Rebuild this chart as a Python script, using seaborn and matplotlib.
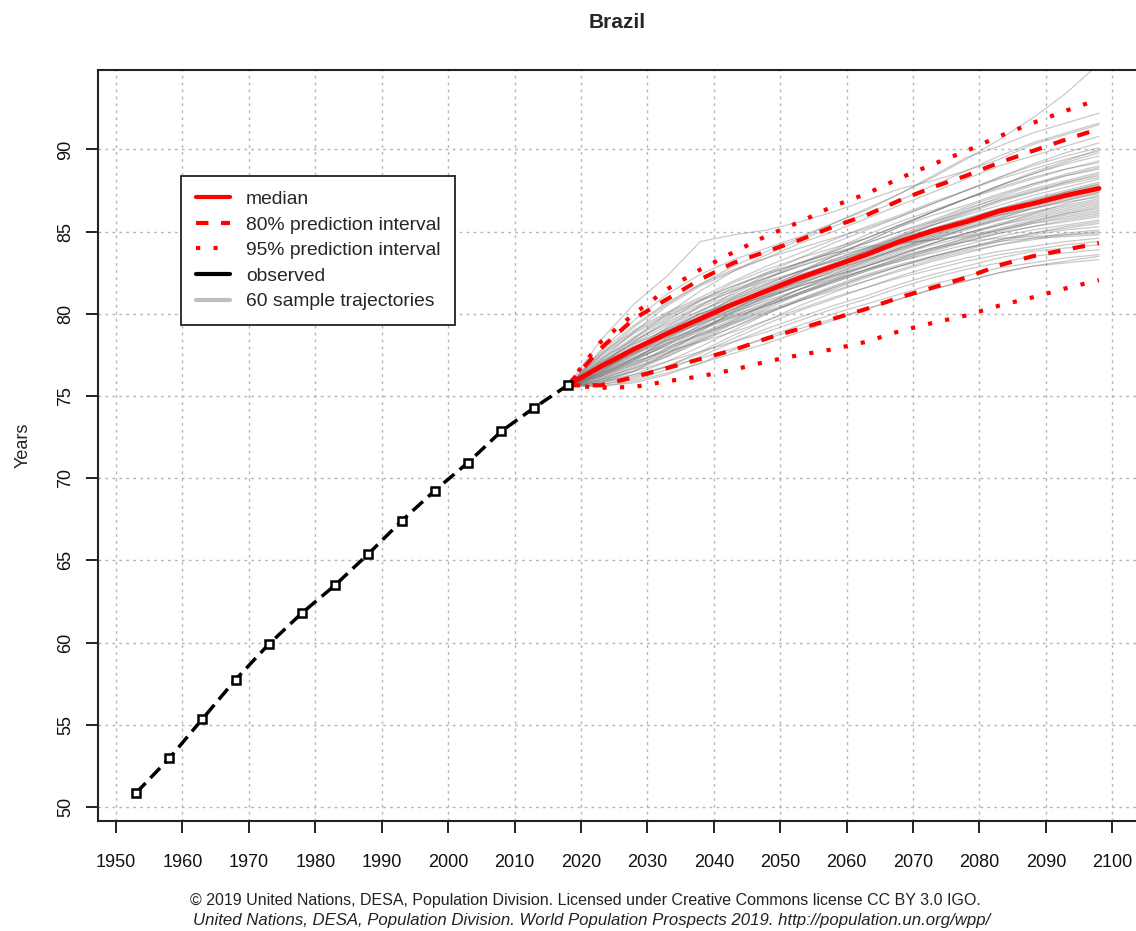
import pandas as pd
import matplotlib.pyplot as plt
import matplotlib.lines as mlines
import seaborn as sns

sns.set_style("white")
plt.rcParams['font.family'] = ['Liberation Sans', 'DejaVu Sans']

# observed life expectancy (5-year period midpoints)
obs_years = [1953, 1958, 1963, 1968, 1973, 1978, 1983, 1988, 1993, 1998, 2003, 2008, 2013, 2018]
obs_values = [50.85, 52.95, 55.35, 57.75, 59.9, 61.8, 63.5, 65.4, 67.4, 69.25, 70.95, 72.85, 74.3, 75.65]

# projections
proj_years = [2018, 2023, 2028, 2033, 2038, 2043, 2048, 2053, 2058,
              2063, 2068, 2073, 2078, 2083, 2088, 2093, 2098]
median = [75.65, 76.8, 77.85, 78.8, 79.7, 80.6, 81.4, 82.2, 82.9, 83.6, 84.4, 85.05, 85.6, 86.25, 86.7, 87.2, 87.63]
pi80_upper = [75.65, 77.9, 79.7, 80.9, 82.1, 83.1, 83.8, 84.5, 85.3, 86.0, 86.9, 87.7, 88.4, 89.2, 89.9, 90.6, 91.25]
pi80_lower = [75.65, 75.65, 76.15, 76.7, 77.25, 77.8, 78.5, 79.1, 79.7, 80.3, 81.0, 81.6, 82.2, 82.95, 83.5, 83.9, 84.3]
pi95_upper = [75.65, 78.3, 80.0, 81.5, 82.7, 83.75, 84.75, 85.6, 86.55, 87.3, 88.25, 89.1, 89.9, 90.8, 91.6, 92.35, 93.05]
pi95_lower = [75.65, 75.5, 75.55, 75.9, 76.2, 76.6, 77.1, 77.5, 77.85, 78.3, 78.95, 79.45, 79.9, 80.5, 81.0, 81.55, 82.05]

# 60 sample trajectories
trajectories = [
    [75.6, 77.5, 79.2, 80.6, 81.8, 82.9, 83.8, 84.6, 85.5, 86.4, 87.3, 88.3, 89.4, 90.6, 91.9, 93.4, 95.2],
    [75.6, 78.4, 80.6, 82.3, 84.4, 84.8, 85.1, 85.6, 86.2, 86.9, 87.6, 88.1, 88.7, 89.4, 90.3, 90.9, 91.5],
    [75.6, 77.8, 79.6, 81.2, 82.4, 83.3, 84.0, 84.7, 85.5, 86.3, 87.3, 88.4, 89.5, 90.2, 91.0, 91.6, 92.2],
    [75.6, 77.2, 78.9, 80.5, 81.7, 82.6, 83.4, 84.3, 85.0, 85.8, 86.6, 87.4, 88.2, 89.0, 89.6, 90.2, 90.8],
    [75.6, 77.6, 79.0, 80.1, 81.0, 82.0, 82.9, 83.7, 84.5, 85.3, 86.0, 86.8, 87.5, 88.2, 88.8, 89.4, 89.9],
    [75.6, 76.9, 78.3, 79.6, 80.8, 81.9, 82.7, 83.4, 84.0, 84.6, 85.4, 86.2, 87.0, 87.8, 88.5, 89.1, 89.6],
    [75.6, 77.3, 78.4, 79.4, 80.4, 81.2, 82.2, 83.1, 83.9, 84.8, 85.6, 86.3, 87.0, 87.6, 88.2, 88.8, 89.3],
    [75.6, 76.6, 77.6, 78.9, 80.1, 81.3, 82.4, 83.1, 83.7, 84.3, 85.0, 85.7, 86.5, 87.2, 87.9, 88.5, 89.0],
    [75.6, 77.0, 78.2, 79.3, 80.2, 81.0, 81.8, 82.6, 83.5, 84.4, 85.3, 86.0, 86.6, 87.3, 87.9, 88.4, 88.8],
    [75.6, 76.4, 77.5, 78.7, 79.9, 80.9, 81.8, 82.6, 83.3, 84.0, 84.8, 85.6, 86.4, 87.0, 87.6, 88.1, 88.6],
    [75.6, 77.4, 78.8, 79.9, 80.8, 81.5, 82.2, 82.9, 83.6, 84.3, 85.0, 85.6, 86.2, 86.9, 87.5, 88.0, 88.4],
    [75.6, 76.8, 77.9, 78.8, 79.6, 80.6, 81.6, 82.5, 83.3, 84.0, 84.7, 85.4, 86.0, 86.6, 87.2, 87.7, 88.2],
    [75.6, 76.2, 77.1, 78.2, 79.3, 80.3, 81.2, 82.1, 83.0, 83.8, 84.5, 85.2, 85.8, 86.4, 87.0, 87.5, 88.0],
    [75.6, 77.1, 78.5, 79.7, 80.6, 81.4, 82.0, 82.6, 83.2, 83.9, 84.6, 85.2, 85.8, 86.4, 86.9, 87.4, 87.9],
    [75.6, 76.7, 77.6, 78.5, 79.5, 80.5, 81.3, 82.0, 82.8, 83.6, 84.3, 84.9, 85.6, 86.3, 86.9, 87.4, 87.8],
    [75.6, 76.3, 77.3, 78.4, 79.5, 80.4, 81.1, 81.9, 82.7, 83.4, 84.1, 84.8, 85.5, 86.1, 86.7, 87.2, 87.7],
    [75.6, 77.0, 78.0, 78.9, 79.8, 80.8, 81.7, 82.4, 83.0, 83.6, 84.2, 84.8, 85.4, 86.0, 86.6, 87.1, 87.6],
    [75.6, 76.5, 77.8, 79.0, 80.0, 80.7, 81.4, 82.1, 82.8, 83.5, 84.2, 84.9, 85.5, 86.0, 86.6, 87.1, 87.5],
    [75.6, 76.9, 77.7, 78.6, 79.4, 80.3, 81.2, 82.0, 82.7, 83.3, 84.0, 84.7, 85.3, 85.9, 86.5, 87.0, 87.4],
    [75.6, 76.1, 76.9, 77.9, 79.0, 80.1, 81.0, 81.8, 82.6, 83.3, 84.0, 84.6, 85.2, 85.8, 86.4, 86.9, 87.3],
    [75.6, 77.2, 78.6, 79.8, 80.8, 81.7, 82.5, 83.1, 83.7, 84.1, 84.3, 84.5, 84.8, 85.4, 86.1, 86.7, 87.2],
    [75.6, 76.6, 77.4, 78.2, 79.1, 80.0, 80.9, 81.8, 82.6, 83.3, 83.9, 84.5, 85.1, 85.7, 86.2, 86.6, 87.0],
    [75.6, 76.8, 78.1, 79.1, 80.0, 80.7, 81.3, 81.9, 82.5, 83.2, 83.9, 84.6, 85.2, 85.7, 86.1, 86.5, 86.9],
    [75.6, 76.0, 76.8, 77.8, 78.8, 79.7, 80.6, 81.5, 82.3, 83.0, 83.7, 84.3, 84.9, 85.4, 85.9, 86.3, 86.7],
    [75.6, 76.4, 77.3, 78.3, 79.3, 80.2, 81.0, 81.7, 82.3, 82.9, 83.6, 84.3, 84.9, 85.4, 85.8, 86.2, 86.6],
    [75.6, 77.1, 78.2, 79.0, 79.8, 80.5, 81.1, 81.7, 82.3, 82.9, 83.6, 84.2, 84.7, 85.2, 85.7, 86.1, 86.4],
    [75.6, 75.9, 76.5, 77.4, 78.4, 79.4, 80.3, 81.2, 82.0, 82.7, 83.4, 84.0, 84.6, 85.1, 85.6, 86.0, 86.3],
    [75.6, 76.6, 77.5, 78.4, 79.2, 79.9, 80.6, 81.3, 82.0, 82.7, 83.4, 84.0, 84.6, 85.1, 85.5, 85.8, 86.1],
    [75.6, 76.3, 77.0, 77.8, 78.7, 79.6, 80.5, 81.3, 82.0, 82.7, 83.3, 83.9, 84.4, 84.9, 85.3, 85.6, 85.9],
    [75.6, 76.9, 77.9, 78.7, 79.4, 80.1, 80.8, 81.5, 82.1, 82.7, 83.2, 83.7, 84.2, 84.7, 85.1, 85.4, 85.7],
    [75.6, 75.8, 76.3, 77.1, 78.0, 79.0, 80.0, 80.9, 81.7, 82.4, 83.0, 83.5, 84.0, 84.5, 84.9, 85.2, 85.5],
    [75.6, 76.2, 77.0, 77.9, 78.8, 79.5, 80.2, 80.9, 81.6, 82.3, 82.9, 83.4, 83.9, 84.4, 84.8, 85.1, 85.3],
    [75.6, 76.5, 77.3, 78.0, 78.7, 79.4, 80.1, 80.8, 81.4, 82.0, 82.6, 83.2, 83.7, 84.2, 84.5, 84.8, 85.0],
    [75.6, 76.1, 76.7, 77.4, 78.3, 79.2, 80.1, 80.8, 81.5, 82.2, 82.9, 83.5, 84.0, 84.4, 84.6, 84.7, 84.8],
    [75.6, 75.8, 76.2, 76.8, 77.6, 78.5, 79.4, 80.2, 80.9, 81.6, 82.3, 82.9, 83.4, 83.8, 84.1, 84.4, 84.6],
    [75.6, 76.4, 77.1, 77.7, 78.3, 78.9, 79.6, 80.3, 81.0, 81.6, 82.2, 82.7, 83.2, 83.6, 83.9, 84.2, 84.4],
    [75.6, 75.7, 76.0, 76.6, 77.4, 78.3, 79.1, 79.8, 80.5, 81.1, 81.8, 82.4, 82.9, 83.4, 83.8, 84.0, 84.2],
    [75.6, 76.0, 76.5, 77.1, 77.7, 78.3, 78.9, 79.6, 80.3, 80.9, 81.6, 82.2, 82.7, 83.1, 83.5, 83.7, 83.9],
    [75.6, 75.6, 75.8, 76.3, 77.0, 77.8, 78.6, 79.3, 80.0, 80.6, 81.2, 81.8, 82.3, 82.8, 83.1, 83.4, 83.6],
    [75.6, 75.9, 76.3, 76.8, 77.3, 77.9, 78.5, 79.1, 79.7, 80.3, 80.9, 81.5, 82.0, 82.5, 82.9, 83.1, 83.3],
    [75.6, 76.5, 77.7, 78.9, 80.0, 80.9, 81.6, 82.3, 83.0, 83.8, 84.6, 85.4, 86.2, 86.9, 87.4, 87.9, 88.3],
    [75.6, 76.2, 77.2, 78.5, 79.8, 81.0, 82.1, 83.0, 83.8, 84.6, 85.4, 86.2, 87.0, 87.8, 88.5, 89.2, 89.8],
    [75.6, 77.7, 79.3, 80.7, 81.8, 82.7, 83.4, 84.0, 84.6, 85.2, 85.9, 86.7, 87.5, 88.3, 89.0, 89.6, 90.1],
    [75.6, 76.9, 78.5, 80.0, 81.4, 82.6, 83.6, 84.5, 85.3, 86.1, 86.9, 87.8, 88.7, 89.6, 90.4, 91.0, 91.6],
    [75.6, 76.4, 77.8, 79.2, 80.5, 81.6, 82.5, 83.4, 84.3, 85.1, 85.9, 86.7, 87.5, 88.3, 89.1, 89.8, 90.4],
    [75.6, 76.7, 77.9, 79.1, 80.2, 81.1, 81.9, 82.6, 83.2, 83.8, 84.4, 85.0, 85.5, 86.0, 86.4, 86.8, 87.1],
    [75.6, 77.0, 78.3, 79.5, 80.5, 81.4, 82.2, 82.9, 83.5, 84.0, 84.3, 84.5, 84.7, 85.1, 85.6, 86.1, 86.5],
    [75.6, 76.3, 77.2, 78.1, 79.1, 80.1, 81.1, 82.0, 82.9, 83.8, 84.7, 85.5, 86.3, 87.1, 87.8, 88.4, 88.9],
    [75.6, 76.8, 77.8, 78.7, 79.6, 80.5, 81.4, 82.3, 83.1, 83.9, 84.7, 85.4, 86.1, 86.8, 87.4, 88.0, 88.5],
    [75.6, 76.0, 76.7, 77.6, 78.6, 79.6, 80.6, 81.5, 82.4, 83.2, 84.0, 84.7, 85.4, 86.1, 86.8, 87.4, 87.9],
    [75.6, 76.6, 77.6, 78.6, 79.5, 80.3, 81.0, 81.7, 82.4, 83.1, 83.8, 84.5, 85.2, 85.8, 86.4, 86.9, 87.4],
    [75.6, 75.9, 76.6, 77.5, 78.5, 79.5, 80.4, 81.3, 82.1, 82.9, 83.6, 84.3, 84.9, 85.5, 86.0, 86.4, 86.8],
    [75.6, 76.7, 77.6, 78.4, 79.1, 79.8, 80.5, 81.2, 81.9, 82.6, 83.3, 83.9, 84.5, 85.0, 85.5, 85.9, 86.2],
    [75.6, 76.2, 76.9, 77.6, 78.4, 79.2, 80.0, 80.8, 81.6, 82.3, 82.9, 83.5, 84.0, 84.5, 84.9, 85.3, 85.6],
    [75.6, 75.7, 76.1, 76.8, 77.7, 78.7, 79.6, 80.5, 81.3, 82.0, 82.7, 83.3, 83.8, 84.2, 84.6, 84.9, 85.1],
    [75.6, 76.4, 77.3, 78.2, 79.1, 79.9, 80.7, 81.5, 82.2, 82.9, 83.5, 84.0, 84.4, 84.6, 84.7, 84.8, 84.9],
    [75.6, 77.5, 78.9, 80.0, 80.9, 81.7, 82.4, 83.1, 83.8, 84.6, 85.4, 86.2, 87.0, 87.7, 88.3, 88.8, 89.2],
    [75.6, 75.8, 76.5, 77.6, 78.9, 80.2, 81.4, 82.5, 83.5, 84.4, 85.3, 86.2, 87.0, 87.8, 88.6, 89.3, 90.0],
    [75.6, 75.6, 75.9, 76.4, 77.0, 77.6, 78.2, 78.9, 79.6, 80.3, 80.9, 81.5, 82.0, 82.5, 82.9, 83.2, 83.5],
    [75.6, 76.3, 77.2, 78.1, 79.0, 79.8, 80.5, 81.2, 81.9, 82.6, 83.2, 83.8, 84.4, 84.9, 85.3, 85.7, 86.0],
]

rows = []
for i, traj in enumerate(trajectories):
    for yr, v in zip(proj_years, traj):
        rows.append({'traj': i, 'year': yr, 'value': v})
traj_df = pd.DataFrame(rows)

fig = plt.figure(figsize=(11.36, 9.31), dpi=100)
ax = fig.add_axes([0.0863, 0.1182, 0.915, 0.8066])

# sample trajectories
sns.lineplot(data=traj_df, x='year', y='value', units='traj', estimator=None,
             color='#7a7a7a', alpha=0.4, linewidth=0.9, ax=ax, legend=False)

red = '#ff0000'
ax.plot(proj_years, pi95_upper, color=red, lw=3, linestyle=(0, (1, 3.2)), dash_capstyle='butt')
ax.plot(proj_years, pi95_lower, color=red, lw=3, linestyle=(0, (1, 3.2)), dash_capstyle='butt')
ax.plot(proj_years, pi80_upper, color=red, lw=3, linestyle=(0, (3, 3)))
ax.plot(proj_years, pi80_lower, color=red, lw=3, linestyle=(0, (3, 3)))
ax.plot(proj_years, median, color=red, lw=3.5)

# observed
ax.plot(obs_years, obs_values, color='black', lw=2.5, linestyle=(0, (4, 2)),
        marker='s', markersize=6, markerfacecolor='white', markeredgecolor='black',
        markeredgewidth=1.8)

ax.set_xlim(1947.29, 2103.8)
ax.set_ylim(49.15, 94.83)
ax.set_xticks(range(1950, 2101, 10))
ax.set_yticks(range(50, 91, 5))
ax.grid(True, color='#b5b5b5', linestyle=(0, (2, 3)), linewidth=1)
ax.set_axisbelow(True)

for s in ax.spines.values():
    s.set_color('#222222')
    s.set_linewidth(1.5)

ax.tick_params(axis='both', direction='out', length=8.5, width=1.4, color='#222222',
               labelsize=13, labelcolor='#111111', bottom=True, left=True)
ax.tick_params(axis='x', pad=15)
ax.tick_params(axis='y', pad=8.5, labelrotation=90)
for lab in ax.get_yticklabels():
    lab.set_verticalalignment('center')

ax.set_xlabel('')
ax.set_ylabel('Years', fontsize=13, color='#222222')
ax.yaxis.label.set_verticalalignment('center')
ax.yaxis.set_label_coords(-0.072, 0.5)

fig.text(0.543, 0.976, 'Brazil', fontsize=15, fontweight='bold', ha='center', va='center')

handles = [
    mlines.Line2D([], [], color=red, lw=3),
    mlines.Line2D([], [], color=red, lw=3, linestyle=(0, (3, 3))),
    mlines.Line2D([], [], color=red, lw=3, linestyle=(0, (1, 3.2)), dash_capstyle='butt'),
    mlines.Line2D([], [], color='black', lw=3),
    mlines.Line2D([], [], color='#bebebe', lw=3),
]
labels = ['median', '80% prediction interval', '95% prediction interval',
          'observed', '60 sample trajectories']
leg = ax.legend(handles, labels, loc='upper left', bbox_to_anchor=(0.0799, 0.859),
                borderaxespad=0, fancybox=False, framealpha=1, edgecolor='#222222',
                fontsize=13.9, handlelength=1.8, handletextpad=0.8, labelspacing=0.42,
                borderpad=0.75)
leg.get_frame().set_linewidth(1.3)

fig.text(0.5154, 0.033,
         '\u00a9 2019 United Nations, DESA, Population Division. Licensed under Creative Commons license CC BY 3.0 IGO.',
         fontsize=11.5, ha='center', va='center', color='#222222')
fig.text(0.5207, 0.011,
         'United Nations, DESA, Population Division. World Population Prospects 2019. http://population.un.org/wpp/',
         fontsize=12.1, ha='center', va='center', style='italic', color='#222222')

plt.savefig('out.png', dpi=100)
